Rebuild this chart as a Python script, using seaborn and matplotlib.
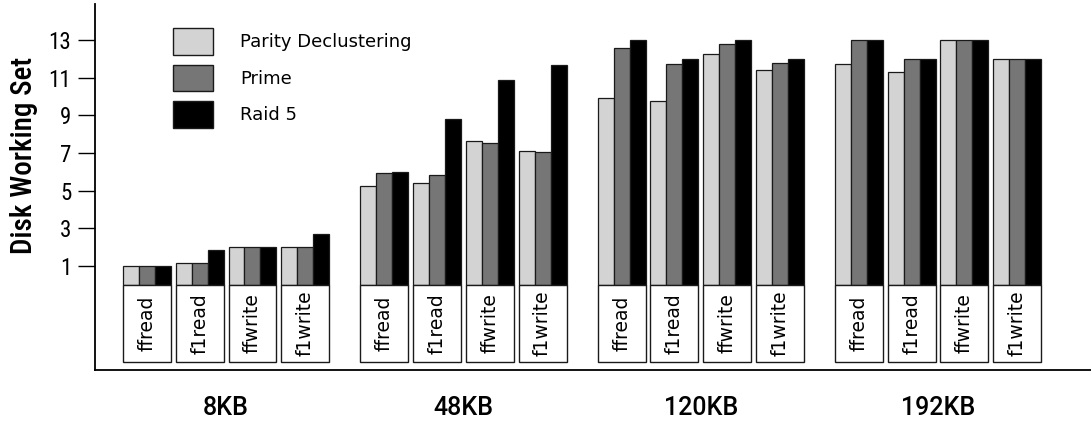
import numpy as np
import pandas as pd
import matplotlib
matplotlib.use("Agg")
import matplotlib.pyplot as plt
from matplotlib.patches import Patch, Rectangle
import seaborn as sns

# Disk working set per file size, access pattern and layout scheme
sizes = ["8KB", "48KB", "120KB", "192KB"]
patterns = ["ffread", "f1read", "ffwrite", "f1write"]
schemes = ["Parity Declustering", "Prime", "Raid 5"]

parity_declustering = [1.0, 1.15, 2.0, 2.0,
                       5.25, 5.4, 7.65, 7.1,
                       9.9, 9.75, 12.25, 11.4,
                       11.75, 11.3, 13.0, 12.0]
prime = [1.0, 1.15, 2.0, 2.0,
         5.95, 5.85, 7.55, 7.07,
         12.6, 11.7, 12.8, 11.8,
         13.0, 12.0, 13.0, 12.0]
raid5 = [1.0, 1.85, 2.0, 2.7,
         6.0, 8.8, 10.9, 11.65,
         13.0, 12.0, 13.0, 12.0,
         13.0, 12.0, 13.0, 12.0]

scheme_colors = ["#d3d3d3", "#767676", "#000000"]

GROUP_STEP = 4.5
BOX_W = 0.91
BOX_DEPTH = 4.08

rows = []
for s, vals in zip(schemes, [parity_declustering, prime, raid5]):
    for gi, size in enumerate(sizes):
        for pi, pat in enumerate(patterns):
            rows.append({"pos": gi * GROUP_STEP + pi, "size": size,
                         "pattern": pat, "scheme": s,
                         "value": vals[gi * len(patterns) + pi]})
df = pd.DataFrame(rows)

sns.set_style("ticks")
narrow = ["Roboto Condensed", "Roboto"]
plt.rcParams["font.family"] = narrow
for key in ["text.color", "axes.labelcolor", "xtick.color", "ytick.color",
            "axes.edgecolor"]:
    plt.rcParams[key] = "black"

fig = plt.figure(figsize=(10.91, 4.22), dpi=100)
ax = fig.add_axes([0.0871, 0.1232, 0.9129, 0.8673])

sns.barplot(data=df, x="pos", y="value", hue="scheme", hue_order=schemes,
            palette=scheme_colors, native_scale=True, width=BOX_W,
            dodge=True, edgecolor="#1a1a1a", linewidth=0.9,
            errorbar=None, legend=False, ax=ax)

# White label boxes under each pattern's bars
for gi in range(len(sizes)):
    for pi, pat in enumerate(patterns):
        xc = gi * GROUP_STEP + pi
        ax.add_patch(Rectangle((xc - BOX_W / 2, -BOX_DEPTH), BOX_W, BOX_DEPTH,
                               facecolor="white", edgecolor="#1a1a1a",
                               linewidth=1.0, zorder=3))
        ax.text(xc, -BOX_DEPTH / 2, pat, rotation=90, ha="center",
                va="center", fontsize=13.5, family=["DejaVu Sans"], zorder=4)

# Size labels under each group
for gi, size in enumerate(sizes):
    ax.text(gi * GROUP_STEP + 1.5, -0.105, size, transform=ax.get_xaxis_transform(),
            ha="center", va="center", fontsize=18, family=["Roboto"],
            fontweight="medium")

ax.set_xlim(-0.986, 17.9)
ax.set_ylim(-4.52, 14.91)
ax.set_yticks([1, 3, 5, 7, 9, 11, 13])
ax.set_xticks([])
ax.set_xlabel("")
ax.set_ylabel("Disk Working Set", fontsize=21, fontweight="medium")
ax.yaxis.set_label_coords(-0.057, 0.587)
ax.tick_params(axis="y", length=12, width=1.0, labelsize=16.5, pad=5)
for side in ["top", "right"]:
    ax.spines[side].set_visible(False)
for side in ["left", "bottom"]:
    ax.spines[side].set_linewidth(1.3)

handles = [Patch(facecolor=c, edgecolor="#1a1a1a", linewidth=1.0)
           for c in scheme_colors]
ax.legend(handles, schemes, loc="upper left",
          bbox_to_anchor=(173 / 1091, 1 - 28 / 422),
          bbox_transform=fig.transFigure, frameon=False,
          prop={"family": ["DejaVu Sans"], "size": 13},
          handlelength=2.2, handleheight=1.9,
          handletextpad=1.5, labelspacing=0.55, borderpad=0,
          borderaxespad=0)

fig.savefig("out.png", dpi=100)
